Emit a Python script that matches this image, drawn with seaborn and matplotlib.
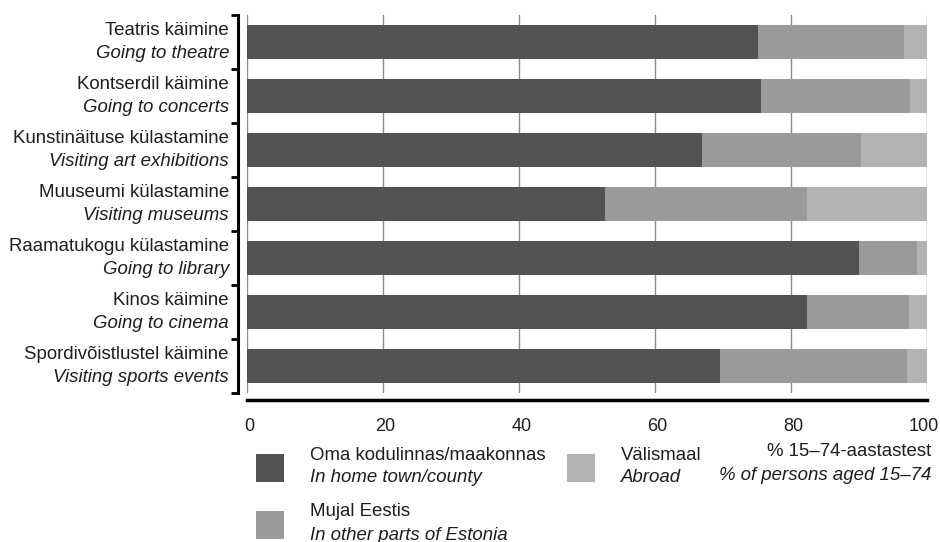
import numpy as np
import pandas as pd
import matplotlib
matplotlib.use("Agg")
import matplotlib.pyplot as plt
from matplotlib.patches import Rectangle
from matplotlib.transforms import blended_transform_factory, ScaledTranslation
import seaborn as sns

# Activities, top to bottom (Estonian / English)
ACTIVITIES_ET = [
    "Teatris käimine",
    "Kontserdil käimine",
    "Kunstinäituse külastamine",
    "Muuseumi külastamine",
    "Raamatukogu külastamine",
    "Kinos käimine",
    "Spordivõistlustel käimine",
]
ACTIVITIES_EN = [
    "Going to theatre",
    "Going to concerts",
    "Visiting art exhibitions",
    "Visiting museums",
    "Going to library",
    "Going to cinema",
    "Visiting sports events",
]

# % of persons aged 15-74, by place
HOME = [75.2, 75.6, 67.0, 52.7, 90.0, 82.4, 69.6]
OTHER = [21.5, 21.9, 23.3, 29.7, 8.6, 15.0, 27.5]
ABROAD = [3.3, 2.5, 9.7, 17.6, 1.4, 2.6, 2.9]

SERIES_ET = ["Oma kodulinnas/maakonnas", "Mujal Eestis", "Välismaal"]
SERIES_EN = ["In home town/county", "In other parts of Estonia", "Abroad"]
COLORS = ["#525252", "#9a9a9a", "#b3b3b3"]

X_TICKS = [0, 20, 40, 60, 80, 100]
UNIT_ET = "% 15–74-aastastest"
UNIT_EN = "% of persons aged 15–74"

W, H = 940, 542
TEXT = "#1e1e1e"
FS = 13.4

sns.set_style("white")
plt.rcParams["font.family"] = ["Liberation Sans", "DejaVu Sans"]

df = pd.DataFrame({"activity": ACTIVITIES_ET, "home": HOME, "other": OTHER, "abroad": ABROAD})
df["cum_other"] = df["home"] + df["other"]
df["cum_abroad"] = df["cum_other"] + df["abroad"]

fig = plt.figure(figsize=(W / 100, H / 100), dpi=100)
ax = fig.add_axes([246.5 / W, 1 - 393 / H, 680 / W, 378 / H])

# stacked bars: draw cumulative totals, longest first
for col, color in zip(["cum_abroad", "cum_other", "home"], COLORS[::-1]):
    sns.barplot(data=df, x=col, y="activity", orient="h", color=color, saturation=1,
                width=0.63, errorbar=None, linewidth=0, ax=ax)

ax.set_xlim(0, 100)
ax.set_ylim(6.5, -0.5)
ax.set_xlabel("")
ax.set_ylabel("")

# vertical grid
ax.set_axisbelow(True)
ax.set_xticks(X_TICKS)
ax.xaxis.grid(True, color="#8c8c8c", lw=1)
grid = ax.get_xgridlines()
grid[0].set_color("#c8c8c8")
grid[-1].set_color("#b5b5b5")
grid[-1].set_linewidth(2)

for s in ["top", "right"]:
    ax.spines[s].set_visible(False)
ax.spines["left"].set_position(("outward", 6))
ax.spines["left"].set_linewidth(2.2)
ax.spines["left"].set_color("black")
ax.spines["bottom"].set_position(("outward", 5))
ax.spines["bottom"].set_linewidth(2.5)
ax.spines["bottom"].set_color("black")

ax.set_yticks(np.arange(-0.5, 7, 1), minor=True)
ax.tick_params(axis="y", which="major", left=False, labelleft=False)
ax.tick_params(axis="y", which="minor", left=True, length=5, width=2, direction="out", color="black")
ax.tick_params(axis="x", length=6, width=2, direction="out", color="black",
               labelsize=13, labelcolor=TEXT, pad=7)

# nudge tick labels a little right, keep "100" inside the figure
labels = ax.get_xticklabels()
for k, lab in enumerate(labels):
    dx = -3 if k == len(labels) - 1 else 3
    lab.set_transform(lab.get_transform() + ScaledTranslation(dx / 100, 0, fig.dpi_scale_trans))

# two-line category labels
trans = blended_transform_factory(ax.transAxes, ax.transData)
for i, (et, en) in enumerate(zip(ACTIVITIES_ET, ACTIVITIES_EN)):
    ax.text(-17.5 / 680, i - 0.215, et, ha="right", va="center", fontsize=FS, color=TEXT, transform=trans)
    ax.text(-17.5 / 680, i + 0.215, en, ha="right", va="center", fontsize=FS, color=TEXT,
            style="italic", transform=trans)

# legend drawn by hand (two-line labels)
legend_pos = [(256, 454), (256, 511), (567, 454)]
for (x, y), et, en, color in zip(legend_pos, SERIES_ET, SERIES_EN, COLORS):
    fig.add_artist(Rectangle((x / W, 1 - (y + 28) / H), 28 / W, 28 / H,
                             transform=fig.transFigure, color=color, lw=0))
    fig.text((x + 54) / W, 1 - (y + 1) / H, et, ha="left", va="center", fontsize=FS, color=TEXT)
    fig.text((x + 54) / W, 1 - (y + 24) / H, en, ha="left", va="center", fontsize=FS, color=TEXT,
             style="italic")

fig.text(931 / W, 1 - 452 / H, UNIT_ET, ha="right", va="center", fontsize=FS, color=TEXT)
fig.text(931 / W, 1 - 476 / H, UNIT_EN, ha="right", va="center", fontsize=FS, color=TEXT,
         style="italic")

fig.savefig("out.png", dpi=100)
